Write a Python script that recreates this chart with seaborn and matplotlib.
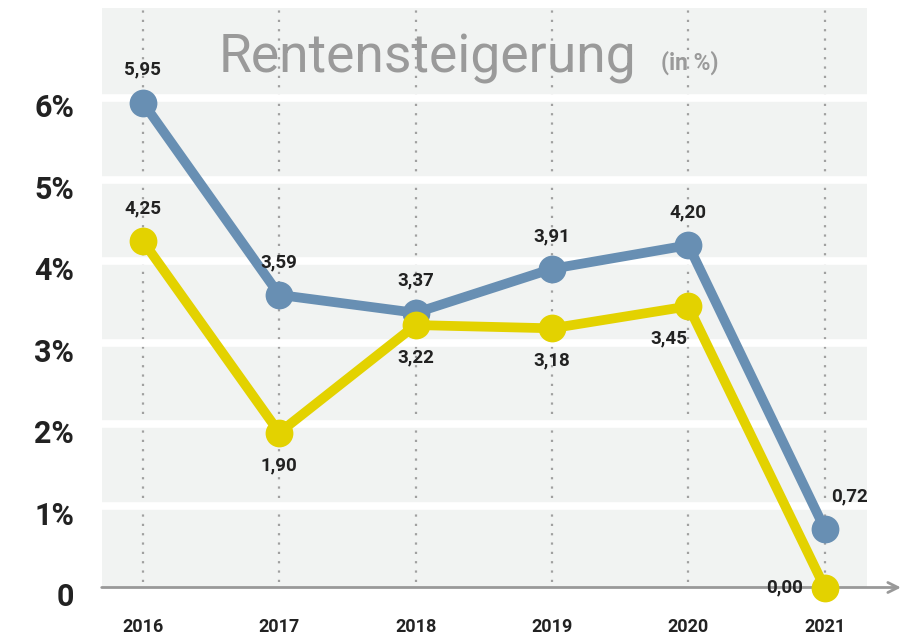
import numpy as np
import pandas as pd
import matplotlib
matplotlib.use("Agg")
import matplotlib.pyplot as plt
import seaborn as sns

# # # data # # #
YEARS = ["2016", "2017", "2018", "2019", "2020", "2021"]
WEST = [5.95, 3.59, 3.37, 3.91, 4.20, 0.72]   # blue line
OST = [4.25, 1.90, 3.22, 3.18, 3.45, 0.00]    # yellow line
Y_TICKS = [0, 1, 2, 3, 4, 5, 6]
Y_LABELS = ["0", "1%", "2%", "3%", "4%", "5%", "6%"]

BLUE = "#688fb3"
YELLOW = "#e3d200"
PANEL = "#f1f3f2"
DARK = "#222222"
GRAY = "#999999"

sns.set_style("white")
plt.rcParams["font.family"] = ["Roboto", "DejaVu Sans"]

df = pd.DataFrame({"pos": np.arange(len(YEARS)), "west": WEST, "ost": OST})

W, H = 911, 635
fig = plt.figure(figsize=(W / 100, H / 100), dpi=100)
ax = fig.add_axes([102 / W, 1 - 587.5 / H, 765 / W, 579.5 / H])
ax.set_facecolor(PANEL)

# dotted vertical guides at each year
for p in df["pos"]:
    ax.axvline(p, ymin=0.01, ymax=1, color="#a0a0a0", linestyle=(0, (1, 3.2)),
               linewidth=1.6, zorder=1)

# white horizontal gridlines
for t in Y_TICKS[1:]:
    ax.axhline(t, color="white", linewidth=5.5, zorder=2)

# lines
sns.lineplot(data=df, x="pos", y="west", ax=ax, color=BLUE, linewidth=7,
             marker="o", markersize=20, markeredgewidth=0, zorder=4)
sns.lineplot(data=df, x="pos", y="ost", ax=ax, color=YELLOW, linewidth=7,
             marker="o", markersize=20, markeredgewidth=0, zorder=5)
for ln in ax.lines:
    ln.set_clip_on(False)
    ln.set_solid_capstyle("round")

ax.set_xlim(-0.3, 5.31)
ax.set_ylim(0, 7.11)

# value labels
fmt = lambda v: "{:.2f}".format(v).replace(".", ",")
west_off = [(0, 17), (0, 17), (0, 17), (0, 17), (0, 17), (18, 17)]
ost_off = [(0, 17), (0, -17), (0, -17), (0, -17), (-14, -17), (-16, 0)]
for i in range(len(YEARS)):
    ax.annotate(fmt(WEST[i]), (df["pos"][i], WEST[i]), xytext=west_off[i],
                textcoords="offset points", ha="center", va="bottom",
                fontsize=13.5, fontweight="bold", color=DARK, zorder=6)
    va = "bottom" if ost_off[i][1] > 0 else ("top" if ost_off[i][1] < 0 else "center")
    ha = "right" if i == 5 else "center"
    ax.annotate(fmt(OST[i]), (df["pos"][i], OST[i]), xytext=ost_off[i],
                textcoords="offset points", ha=ha, va=va,
                fontsize=13.5, fontweight="bold", color=DARK, zorder=6)

# axes ticks
ax.set_xticks(df["pos"])
ax.set_xticklabels(YEARS, fontsize=13, fontweight="bold", color=DARK)
ax.tick_params(axis="x", length=0, pad=22)
ax.set_yticks(Y_TICKS)
ax.set_yticklabels(Y_LABELS, fontsize=22, fontweight="bold", color=DARK)
ax.tick_params(axis="y", length=0, pad=20)
offset = matplotlib.transforms.ScaledTranslation(0, -5 / 72, fig.dpi_scale_trans)
for lab in ax.get_yticklabels():
    lab.set_transform(lab.get_transform() + offset)
ax.set_xlabel("")
ax.set_ylabel("")
sns.despine(ax=ax, left=True, top=True, right=True, bottom=True)

# bottom axis with arrow
ax.annotate("", xy=(1.048, 0), xytext=(-0.004, 0), xycoords="axes fraction",
            arrowprops=dict(arrowstyle="->", color=GRAY, linewidth=2,
                            mutation_scale=18), zorder=3)

# title inside the panel
fig.text(219 / W, 1 - 72 / H, "Rentensteigerung", fontsize=38.5, color="#9a9a9a",
         ha="left", va="baseline")
fig.text(661 / W, 1 - 70 / H, "(in %)", fontsize=16.5, fontweight="bold",
         color="#9a9a9a", ha="left", va="baseline")

fig.savefig("out.png", dpi=100)
